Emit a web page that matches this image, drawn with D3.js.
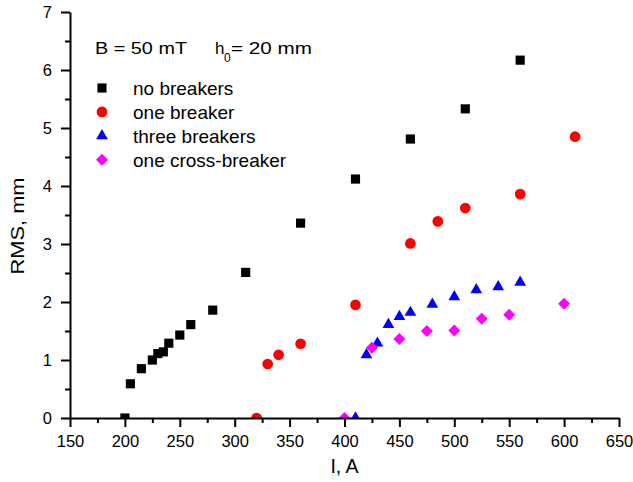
<!DOCTYPE html>
<html>
<head lang="en">
	<meta charset="UTF-8">
	<title>RMS vs current</title>
	<style>
	body { margin: 0; background: #fff; }
	text { font-family: "Liberation Sans", Arial, sans-serif; fill: #000; }
	.axis path, .axis line { stroke: #000; stroke-width: 2; }
	.axis text { font-size: 16.5px; }
	</style>
	<script src="https://cdn.jsdelivr.net/npm/d3@7"></script>
</head>
<body>
<script>
	// data: current I (A) and RMS (mm)
	var noBreakersI   = [200, 205, 215, 225, 230, 235, 240, 250, 260, 280, 310, 360, 410, 460, 510, 560];
	var noBreakersRms = [0, 0.59, 0.85, 1.0, 1.11, 1.14, 1.29, 1.43, 1.61, 1.86, 2.51, 3.36, 4.12, 4.81, 5.33, 6.17];

	var oneBreakerI   = [320, 330, 340, 360, 410, 460, 485, 510, 560, 610];
	var oneBreakerRms = [0, 0.93, 1.09, 1.28, 1.95, 3.01, 3.39, 3.62, 3.86, 4.85];

	var threeBreakersI   = [410, 420, 430, 440, 450, 460, 480, 500, 520, 540, 560];
	var threeBreakersRms = [0, 1.09, 1.29, 1.61, 1.75, 1.82, 1.96, 2.09, 2.21, 2.26, 2.34];

	var crossBreakerI   = [400, 425, 450, 475, 500, 525, 550, 600];
	var crossBreakerRms = [0, 1.21, 1.36, 1.50, 1.51, 1.71, 1.78, 1.97];

	var seriesNames = ["no breakers", "one breaker", "three breakers", "one cross-breaker"];
	var xTicks = [150, 200, 250, 300, 350, 400, 450, 500, 550, 600, 650];
	var yTicks = [0, 1, 2, 3, 4, 5, 6, 7];

	var width = 633, height = 482;

	var series = [
		{ name: seriesNames[0], xs: noBreakersI, ys: noBreakersRms, color: "#000000", shape: "square" },
		{ name: seriesNames[1], xs: oneBreakerI, ys: oneBreakerRms, color: "#ff0000", shape: "circle" },
		{ name: seriesNames[2], xs: threeBreakersI, ys: threeBreakersRms, color: "#0000ff", shape: "triangle" },
		{ name: seriesNames[3], xs: crossBreakerI, ys: crossBreakerRms, color: "#ff00ff", shape: "diamond" }
	];

	var x = d3.scaleLinear().domain([150, 650]).range([70, 619]);
	var y = d3.scaleLinear().domain([0, 7]).range([418, 12]);

	var svg = d3.select("body").append("svg")
		.attr("width", width)
		.attr("height", height);

	svg.append("clipPath").attr("id", "plot")
		.append("rect")
		.attr("x", x(150)).attr("y", 0)
		.attr("width", x(650) - x(150) + 10)
		.attr("height", y(0));

	// symbol path for each shape
	function marker(shape){
		if (shape === "square") return d3.symbol(d3.symbolSquare, 84)();
		if (shape === "circle") return d3.symbol(d3.symbolCircle, 90)();
		if (shape === "triangle") return d3.symbol(d3.symbolTriangle, 60)();
		return d3.symbol(d3.symbolSquare, 72)(); // rotated later -> diamond
	}
	function placeMarker(shape, px, py){
		return "translate(" + px + "," + py + ")" + (shape === "diamond" ? "rotate(45)" : "");
	}

	// points
	var pts = svg.append("g").attr("clip-path", "url(#plot)");
	series.forEach(function(s){
		pts.selectAll(null)
			.data(d3.range(s.xs.length))
			.enter().append("path")
			.attr("d", marker(s.shape))
			.attr("fill", s.color)
			.attr("transform", function(i){
				return placeMarker(s.shape, x(s.xs[i]), y(s.ys[i]));
			});
	});

	// minor ticks first, then main axes on top
	svg.append("g").attr("class", "axis")
		.attr("transform", "translate(0," + y(0) + ")")
		.call(d3.axisBottom(x).tickValues(d3.range(175, 650, 50)).tickSize(5).tickFormat(""))
		.select(".domain").remove();
	svg.append("g").attr("class", "axis")
		.attr("transform", "translate(" + x(150) + ",0)")
		.call(d3.axisLeft(y).tickValues(d3.range(0.5, 7, 1)).tickSize(5).tickFormat(""))
		.select(".domain").remove();

	svg.append("g").attr("class", "axis")
		.attr("transform", "translate(0," + y(0) + ")")
		.call(d3.axisBottom(x).tickValues(xTicks).tickSize(9).tickSizeOuter(0).tickPadding(8).tickFormat(d3.format("d")));
	svg.append("g").attr("class", "axis")
		.attr("transform", "translate(" + x(150) + ",0)")
		.call(d3.axisLeft(y).tickValues(yTicks).tickSize(9).tickSizeOuter(0).tickPadding(9).tickFormat(d3.format("d")));

	// axis titles
	svg.append("text")
		.attr("x", (x(150) + x(650)) / 2).attr("y", 473)
		.attr("text-anchor", "middle")
		.style("font-size", "19.5px")
		.text("I, A");
	svg.append("text")
		.attr("transform", "translate(24,226)rotate(-90)")
		.attr("text-anchor", "middle")
		.attr("textLength", 97).attr("lengthAdjust", "spacingAndGlyphs")
		.style("font-size", "18px")
		.text("RMS, mm");

	// conditions note
	var note = svg.append("g").style("font-size", "17px");
	note.append("text").attr("x", 95).attr("y", 54)
		.attr("textLength", 92).attr("lengthAdjust", "spacingAndGlyphs")
		.text("B = 50 mT");
	note.append("text").attr("x", 215).attr("y", 54).text("h");
	note.append("text").attr("x", 224).attr("y", 62).style("font-size", "12px").text("0");
	note.append("text").attr("x", 231).attr("y", 54)
		.attr("textLength", 81).attr("lengthAdjust", "spacingAndGlyphs")
		.text("= 20 mm");

	// legend
	var legend = svg.append("g").selectAll("g")
		.data(series)
		.enter().append("g")
		.attr("transform", function(d, i){ return "translate(0," + (88 + i * 23.9) + ")"; });
	legend.append("path")
		.attr("d", function(d){ return marker(d.shape); })
		.attr("fill", function(d){ return d.color; })
		.attr("transform", function(d){ return placeMarker(d.shape, 102, 0); });
	legend.append("text")
		.attr("x", 133).attr("y", 7)
		.style("font-size", "19px")
		.text(function(d){ return d.name; });
</script>
</body>
</html>
